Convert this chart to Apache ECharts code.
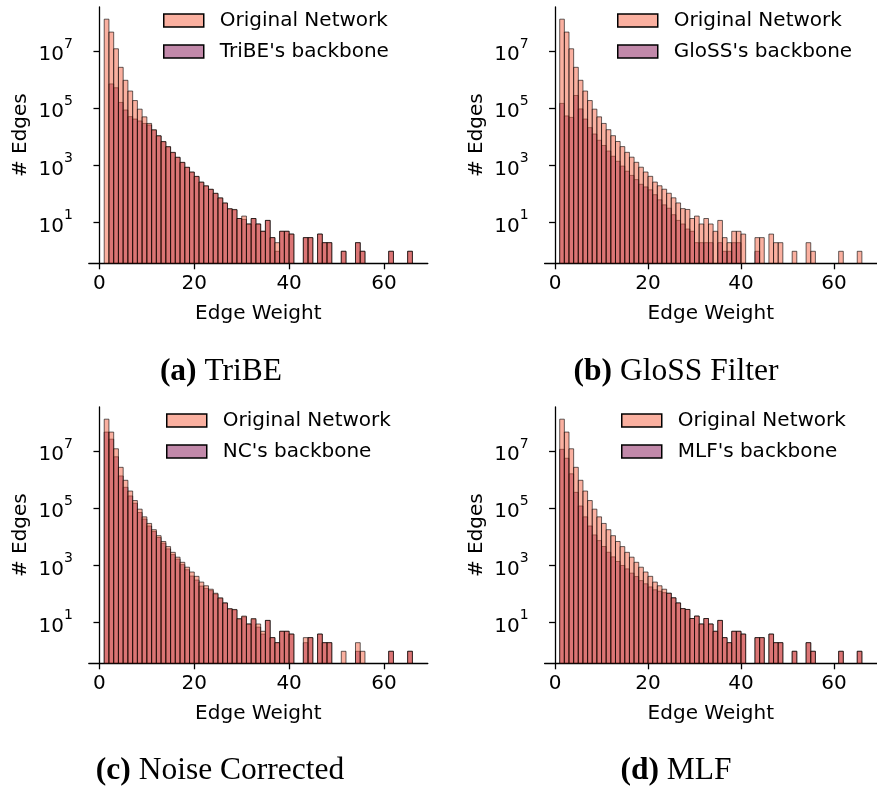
<!DOCTYPE html>
<html><head><meta charset="utf-8">
<script src="https://cdn.jsdelivr.net/npm/echarts@6/dist/echarts.min.js"></script>
<style>html,body{margin:0;padding:0;background:#fff}#c{width:877px;height:789px}</style>
</head><body><div id="c"></div>
<script>
// ---- data ----
const binEdges = [1,2,3,4,5,6,7,8,9,10,11,12,13,14,15,16,17,18,19,20,21,22,23,24,25,26,27,28,29,30,31,32,33,34,35,36,37,38,39,40,41,42,43,44,45,46,47,48,49,50,51,52,53,54,55,56,57,58,59,60,61,62,63,64,65,66];
const originalCounts = [1.3e8,4.6e7,1.2e7,2.7e6,9.5e5,4.0e5,1.86e5,9.3e4,5.0e4,2.95e4,1.78e4,1.1e4,6900,4570,2880,1950,1290,870,590,417,263,195,148,107,74,49,31,29,14,17,9,14,9,5,12,3,2,5,5,4,0,0,3,3,0,4,2,2,0,0,1,0,0,2,1,0,0,0,0,0,1,0,0,0,1];
const tribeCounts = [0,7.1e5,5.2e5,1.6e5,8.7e4,5.1e4,4.2e4,3.6e4,2.95e4,2.6e4,1.7e4,1.07e4,6700,4450,2800,1900,1260,850,580,410,258,190,145,105,72,48,30,28,14,13,9,14,9,5,12,3,1,5,5,4,0,0,3,3,0,4,2,2,0,0,1,0,0,2,1,0,0,0,0,0,1,0,0,0,1];
const glossCounts = [1.48e5,5.4e4,4.8e4,2.8e5,9.5e4,4.2e4,2.1e4,1.26e4,7600,5000,3200,2100,1400,950,630,450,320,220,178,141,95,63,42,32,19,12,9,6,5,2,2,2,2,0,2,1,1,2,2,0,0,0,1,0,0,0,0,0,0,0,0,0,0,0,0,0,0,0,0,0,0,0,0,0,0];
const ncCounts = [4.6e7,2.6e7,6.3e6,1.35e6,5.4e5,2.7e5,1.5e5,7.1e4,4.2e4,2.4e4,1.55e4,9500,6000,3800,2400,1660,1070,710,427,309,190,158,132,100,71,49,30,28,13,16,9,13,7,4,12,3,2,5,5,4,0,0,2,3,0,4,2,2,0,0,0,0,0,1,0,0,0,0,0,0,1,0,0,0,1];
const mlfCounts = [1.15e7,5.6e6,1.6e6,3.6e5,1.2e5,5.0e4,2.4e4,1.17e4,7400,4600,2900,2000,1380,1000,760,540,410,295,229,178,141,126,112,107,74,49,31,29,14,17,9,14,9,5,12,3,2,5,5,4,0,0,3,3,0,4,2,2,0,0,1,0,0,2,1,0,0,0,0,0,1,0,0,0,1];
const backboneNames = ["TriBE's backbone", "GloSS's backbone", "NC's backbone", "MLF's backbone"];
const backboneCounts = [tribeCounts, glossCounts, ncCounts, mlfCounts];
const captionTags = ['(a)', '(b)', '(c)', '(d)'];
const captionNames = ['TriBE', 'GloSS Filter', 'Noise Corrected', 'MLF'];
const xTickValues = [0, 20, 40, 60];
const yTickValues = [10, 1000, 100000, 10000000];
const originalName = 'Original Network';
const xAxisTitle = 'Edge Weight';
const yAxisTitle = '# Edges';

// ---- layout / style ----
const YMIN = Math.pow(10, -0.42), YMAX = Math.pow(10, 8.54);
const XMIN = -2.25, XMAX = 69.25;
const grids = [
  {left: 88.8, top: 7, width: 339, height: 256.3},
  {left: 544.6, top: 7, width: 338.6, height: 256.3},
  {left: 88.8, top: 407, width: 339, height: 256.3},
  {left: 544.6, top: 407, width: 338.6, height: 256.3}
];
const legendPos = [{left: 163, top: 10}, {left: 617, top: 10}, {left: 166, top: 410}, {left: 621, top: 410}];
const captionPos = [[221, 372], [676, 372], [220, 771], [676, 771]];
const ORIG_FILL = 'rgba(245,97,65,0.5)';
const BB_FILL = 'rgba(133,19,85,0.5)';
const EDGE = 'rgba(0,0,0,0.6)';
const SANS = 'DejaVu Sans';
const FS = 20;

function toData(counts) {
  const out = [];
  counts.forEach((c, k) => { if (c > 0) out.push([binEdges[k], binEdges[k + 1], c]); });
  return out;
}
function makeRender(fill) {
  return function (params, api) {
    const top = api.coord([api.value(0), api.value(2)]);
    const bot = api.coord([api.value(1), YMIN]);
    return {
      type: 'rect',
      shape: {x: top[0], y: top[1], width: bot[0] - top[0], height: bot[1] - top[1]},
      style: {fill: fill, stroke: EDGE, lineWidth: 1}
    };
  };
}

const axisLineStyle = {color: '#000', width: 1.3};
const xAxes = [], yAxes = [], series = [], legends = [];
grids.forEach((g, i) => {
  xAxes.push({
    type: 'value', gridIndex: i, min: XMIN, max: XMAX,
    axisLine: {show: true, onZero: false, lineStyle: axisLineStyle},
    axisTick: {show: true, length: 6, lineStyle: axisLineStyle, customValues: xTickValues},
    axisLabel: {customValues: xTickValues, margin: 10, fontSize: FS, fontFamily: SANS, color: '#000'},
    splitLine: {show: false},
    name: xAxisTitle, nameLocation: 'middle', nameGap: 40,
    nameTextStyle: {fontSize: FS, fontFamily: SANS, color: '#000'}
  });
  yAxes.push({
    type: 'log', logBase: 10, gridIndex: i, min: YMIN, max: YMAX,
    axisLine: {show: true, lineStyle: axisLineStyle},
    axisTick: {show: true, length: 6, lineStyle: axisLineStyle, customValues: yTickValues},
    axisLabel: {
      customValues: yTickValues, margin: 16, color: '#000',
      formatter: v => '{b|10}{s|' + Math.round(Math.log10(v)) + '}',
      rich: {
        b: {fontSize: FS, fontFamily: SANS, color: '#000', lineHeight: 28, verticalAlign: 'bottom'},
        s: {fontSize: 14, fontFamily: SANS, color: '#000', lineHeight: 15, verticalAlign: 'top'}
      }
    },
    splitLine: {show: false},
    name: yAxisTitle, nameLocation: 'middle', nameGap: 58,
    nameTextStyle: {fontSize: FS, fontFamily: SANS, color: '#000'}
  });
  series.push({
    type: 'custom', name: backboneNames[i], xAxisIndex: i, yAxisIndex: i,
    renderItem: makeRender(BB_FILL), itemStyle: {color: BB_FILL},
    encode: {x: [0, 1], y: 2}, data: toData(backboneCounts[i]), animation: false
  });
  series.push({
    type: 'custom', name: originalName, xAxisIndex: i, yAxisIndex: i,
    renderItem: makeRender(ORIG_FILL), itemStyle: {color: ORIG_FILL},
    encode: {x: [0, 1], y: 2}, data: toData(originalCounts), animation: false
  });
  legends.push({
    data: [originalName, backboneNames[i]],
    left: legendPos[i].left, top: legendPos[i].top, orient: 'vertical', padding: 0,
    itemWidth: 40, itemHeight: 13, itemGap: 10, icon: 'rect', selectedMode: false,
    itemStyle: {borderColor: '#000', borderWidth: 1.5},
    textStyle: {fontFamily: SANS, fontSize: FS, color: '#000', lineHeight: 21, padding: [0, 0, 0, 11]}
  });
});

const graphics = captionPos.map((p, i) => ({
  type: 'text', x: p[0], y: p[1],
  style: {
    text: '{b|' + captionTags[i] + '}{n| ' + captionNames[i] + '}',
    align: 'center', verticalAlign: 'middle',
    rich: {
      b: {fontFamily: 'Liberation Serif', fontSize: 31.5, fontWeight: 'bold', fill: '#000'},
      n: {fontFamily: 'Liberation Serif', fontSize: 31.5, fill: '#000'}
    }
  }
}));

const chart = echarts.init(document.getElementById('c'), null, {renderer: 'canvas'});
chart.setOption({
  animation: false,
  grid: grids,
  xAxis: xAxes,
  yAxis: yAxes,
  legend: legends,
  series: series,
  graphic: graphics
});
</script></body></html>
